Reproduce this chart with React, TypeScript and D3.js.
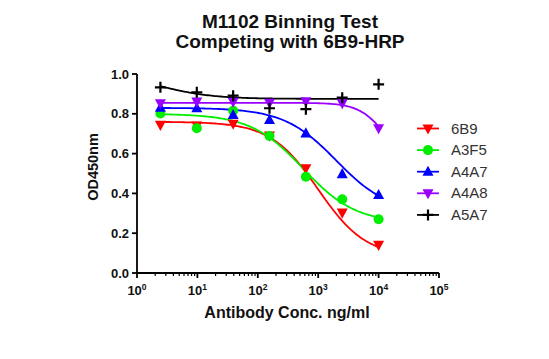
import React from "react";
import * as d3 from "d3";

const concentrations = [2.44, 9.77, 39.06, 156.25, 625, 2500, 10000];
const seriesNames = ["6B9", "A3F5", "A4A7", "A4A8", "A5A7"];
const seriesColors = ["#ff0000", "#00ee00", "#0000ff", "#9900ff", "#000000"];
const seriesMarkers = ["triangleDown", "circle", "triangleUp", "triangleDown", "plus"];
const values6B9 = [0.744, 0.74, 0.75, 0.69, 0.526, 0.303, 0.141];
const valuesA3F5 = [0.802, 0.727, 0.815, 0.688, 0.484, 0.37, 0.27];
const valuesA4A7 = [0.831, 0.828, 0.794, 0.769, 0.702, 0.497, 0.392];
const valuesA4A8 = [0.853, 0.861, 0.86, 0.855, 0.863, 0.853, 0.727];
const valuesA5A7 = [0.933, 0.908, 0.891, 0.828, 0.823, 0.881, 0.948];
// 4-parameter logistic fit parameters: [top, bottom, logEC50, hill]
const fit6B9 = [0.76, 0.08, 3.0, 1.1];
const fitA3F5 = [0.8, 0.25, 2.75, 1.0];
const fitA4A7 = [0.83, 0.3, 3.3, 1.0];
const fitA4A8 = [0.855, 0.55, 4.1, 2.0];
const fitA5A7 = [1.0, 0.875, 0.4, 1.0];
const yTicks = [0, 0.2, 0.4, 0.6, 0.8, 1.0];
const xDecades = [0, 1, 2, 3, 4, 5];
const titleLines = ["M1102 Binning Test", "Competing with 6B9-HRP"];
const xLabel = "Antibody Conc. ng/ml";
const yLabel = "OD450nm";

const allValues = [values6B9, valuesA3F5, valuesA4A7, valuesA4A8, valuesA5A7];
const allFits = [fit6B9, fitA3F5, fitA4A7, fitA4A8, fitA5A7];

const FONT = "'Liberation Sans', Arial, sans-serif";

function Marker({ type, x, y, color }: { type: string; x: number; y: number; color: string }) {
  const s = 5.5;
  if (type === "circle") return <circle cx={x} cy={y} r={5} fill={color} />;
  if (type === "triangleUp")
    return <path d={`M${x},${y - s - 0.5}L${x + s},${y + s * 0.75}L${x - s},${y + s * 0.75}Z`} fill={color} />;
  if (type === "triangleDown")
    return <path d={`M${x},${y + s + 0.5}L${x + s},${y - s * 0.75}L${x - s},${y - s * 0.75}Z`} fill={color} />;
  return (
    <path d={`M${x - 5.5},${y}H${x + 5.5}M${x},${y - 5.5}V${y + 5.5}`} stroke={color} strokeWidth={2.2} />
  );
}

export default function App() {
  const x = d3.scaleLog().domain([1, 1e5]).range([137, 439]);
  const y = d3.scaleLinear().domain([0, 1]).range([273, 74]);

  const logistic = (p: number[], lx: number) => p[1] + (p[0] - p[1]) / (1 + Math.pow(10, (lx - p[2]) * p[3]));
  const lmin = Math.log10(concentrations[0]);
  const lmax = Math.log10(concentrations[concentrations.length - 1]);
  const samples = d3.range(0, 121).map((i) => lmin + ((lmax - lmin) * i) / 120);

  const minorTicks: number[] = [];
  for (let d = 0; d < 5; d++) for (let k = 2; k <= 9; k++) minorTicks.push(k * Math.pow(10, d));

  const legendX = 428;
  const legendY0 = 128.5;
  const legendStep = 21.6;

  return (
    <svg width={549} height={359} style={{ position: "absolute", left: 0, top: 0, background: "#fff" }}>
      <rect width={549} height={359} fill="#fff" />
      {titleLines.map((t, i) => (
        <text key={i} x={290} y={28 + i * 20} textAnchor="middle" fontFamily={FONT} fontWeight="bold" fontSize={19} fill="#111">
          {t}
        </text>
      ))}
      {/* curves */}
      {allFits.map((p, i) => {
        const gen = d3
          .line<number>()
          .x((lx) => x(Math.pow(10, lx)))
          .y((lx) => y(logistic(p, lx)))
          .curve(d3.curveLinear);
        return <path key={i} d={gen(samples) || ""} fill="none" stroke={seriesColors[i]} strokeWidth={1.8} />;
      })}
      {/* points */}
      {allValues.map((vals, i) =>
        vals.map((v, j) => (
          <Marker key={`${i}-${j}`} type={seriesMarkers[i]} x={x(concentrations[j])} y={y(v)} color={seriesColors[i]} />
        ))
      )}
      {/* y axis */}
      <line x1={137} x2={137} y1={y(1)} y2={y(0)} stroke="#000" strokeWidth={1.8} />
      {yTicks.map((t) => (
        <g key={t}>
          <line x1={132} x2={137} y1={y(t)} y2={y(t)} stroke="#000" strokeWidth={1.8} />
          <text x={129} y={y(t) + 4.5} textAnchor="end" fontFamily={FONT} fontWeight="bold" fontSize={13} fill="#111">
            {t.toFixed(1)}
          </text>
        </g>
      ))}
      {/* x axis */}
      <line x1={x(1)} x2={x(1e5)} y1={273} y2={273} stroke="#000" strokeWidth={1.8} />
      {minorTicks.map((t) => (
        <line key={t} x1={x(t)} x2={x(t)} y1={273} y2={276} stroke="#000" strokeWidth={1.2} />
      ))}
      {xDecades.map((d) => (
        <g key={d}>
          <line x1={x(Math.pow(10, d))} x2={x(Math.pow(10, d))} y1={273} y2={278} stroke="#000" strokeWidth={1.8} />
          <text x={x(Math.pow(10, d))} y={295} textAnchor="middle" fontFamily={FONT} fontWeight="bold" fontSize={13} fill="#111">
            10
            <tspan fontSize={8.5} dy={-5}>
              {d}
            </tspan>
          </text>
        </g>
      ))}
      <text x={287} y={318} textAnchor="middle" fontFamily={FONT} fontWeight="bold" fontSize={16} fill="#111">
        {xLabel}
      </text>
      <text
        transform={`translate(98,167) rotate(-90)`}
        textAnchor="middle"
        fontFamily={FONT}
        fontWeight="bold"
        fontSize={14.5}
        fill="#111"
      >
        {yLabel}
      </text>
      {/* legend */}
      {seriesNames.map((n, i) => {
        const ly = legendY0 + i * legendStep;
        return (
          <g key={n}>
            <line x1={legendX - 11} x2={legendX + 11} y1={ly} y2={ly} stroke={seriesColors[i]} strokeWidth={1.8} />
            <Marker type={seriesMarkers[i]} x={legendX} y={ly} color={seriesColors[i]} />
            <text x={451} y={ly + 5} fontFamily={FONT} fontSize={15} fill="#333">
              {n}
            </text>
          </g>
        );
      })}
    </svg>
  );
}
